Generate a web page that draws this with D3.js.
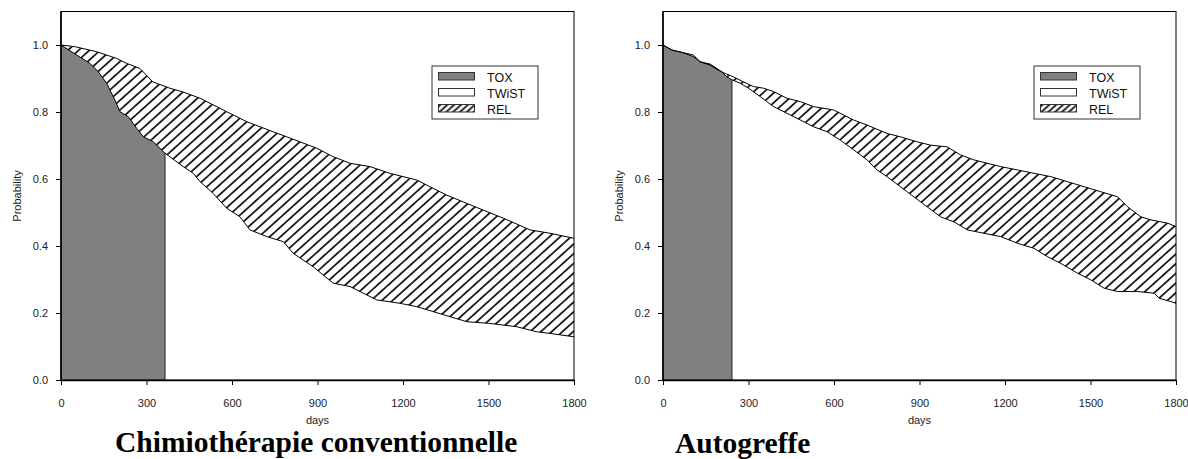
<!DOCTYPE html>
<html>
<head>
<meta charset="utf-8">
<script src="https://cdn.jsdelivr.net/npm/d3@7"></script>
<style>
  body { margin: 0; background: #fff; }
</style>
</head>
<body>
<div id="chart"></div>
<script>
// shared ticks and legend
const yTicks = [0, 0.2, 0.4, 0.6, 0.8, 1.0];
const xTicks = [0, 300, 600, 900, 1200, 1500, 1800];
const legendLabels = ["TOX", "TWiST", "REL"];

// Chimiothérapie conventionnelle : [day, probability]
const chimioTitle = "Chimiothérapie conventionnelle";
const chimioTox = 365;
const chimioOS = [
  [0, 1.000], [49, 0.995], [125, 0.980], [195, 0.960], [231, 0.945], [277, 0.930],
  [322, 0.890], [382, 0.871], [424, 0.861], [488, 0.841], [581, 0.801], [652, 0.771],
  [744, 0.741], [792, 0.726], [897, 0.692], [954, 0.667], [1014, 0.647], [1084, 0.637],
  [1154, 0.617], [1248, 0.597], [1353, 0.552], [1482, 0.507], [1552, 0.483],
  [1646, 0.448], [1716, 0.438], [1800, 0.423]
];
const chimioDFS = [
  [0, 1.000], [55, 0.970], [102, 0.945], [131, 0.920], [160, 0.886], [189, 0.836],
  [207, 0.801], [236, 0.786], [266, 0.751], [289, 0.726], [324, 0.711], [365, 0.677],
  [429, 0.637], [464, 0.617], [488, 0.592], [534, 0.557], [581, 0.513], [628, 0.487],
  [663, 0.448], [722, 0.428], [780, 0.413], [815, 0.378], [885, 0.338], [955, 0.289],
  [1014, 0.279], [1108, 0.239], [1189, 0.229], [1248, 0.219], [1365, 0.189],
  [1424, 0.174], [1505, 0.169], [1599, 0.159], [1669, 0.144], [1716, 0.139], [1800, 0.129]
];

// Autogreffe : [day, probability]
const autoTitle = "Autogreffe";
const autoTox = 242;
const autoOS = [
  [0, 1.000], [31, 0.985], [71, 0.977], [107, 0.970], [130, 0.950], [165, 0.940],
  [194, 0.925], [218, 0.915], [247, 0.905], [282, 0.890], [317, 0.876], [353, 0.871],
  [388, 0.861], [435, 0.841], [482, 0.831], [528, 0.816], [599, 0.806], [669, 0.776],
  [716, 0.761], [786, 0.736], [833, 0.726], [892, 0.711], [939, 0.701], [997, 0.696],
  [1044, 0.672], [1091, 0.657], [1185, 0.637], [1244, 0.627], [1302, 0.617],
  [1361, 0.607], [1419, 0.592], [1478, 0.577], [1536, 0.562], [1595, 0.547],
  [1630, 0.517], [1677, 0.487], [1712, 0.478], [1771, 0.468], [1800, 0.458]
];
const autoDFS = [
  [0, 1.000], [31, 0.985], [71, 0.977], [107, 0.965], [130, 0.950], [165, 0.943],
  [189, 0.930], [206, 0.920], [224, 0.905], [242, 0.896], [271, 0.886], [300, 0.871],
  [341, 0.846], [388, 0.816], [435, 0.796], [482, 0.776], [528, 0.756], [576, 0.741],
  [622, 0.716], [669, 0.687], [716, 0.657], [751, 0.627], [786, 0.607], [833, 0.577],
  [880, 0.547], [927, 0.517], [974, 0.487], [1021, 0.472], [1068, 0.448], [1126, 0.438],
  [1185, 0.428], [1244, 0.408], [1302, 0.393], [1349, 0.368], [1396, 0.348],
  [1454, 0.319], [1501, 0.299], [1548, 0.274], [1595, 0.264], [1665, 0.264],
  [1724, 0.259], [1741, 0.244], [1782, 0.234], [1800, 0.229]
];

const W = 1188, H = 459;
const TOP = 11.5, BOTTOM = 380;
const FONT = "'Liberation Sans', Arial, sans-serif";
const SERIF = "'Liberation Serif', 'Times New Roman', serif";

const svg = d3.select("#chart").append("svg")
  .attr("width", W)
  .attr("height", H);

// hatch patterns (area + denser legend swatch)
const defs = svg.append("defs");
function hatch(id, size, width) {
  const p = defs.append("pattern")
    .attr("id", id)
    .attr("patternUnits", "userSpaceOnUse")
    .attr("width", size)
    .attr("height", size)
    .attr("patternTransform", "rotate(-42)");
  p.append("rect").attr("width", size).attr("height", size).attr("fill", "#fff");
  p.append("line")
    .attr("x1", 0).attr("x2", size)
    .attr("y1", size / 2).attr("y2", size / 2)
    .attr("stroke", "#000")
    .attr("stroke-width", width);
}
hatch("hatch", 7.2, 1.6);
hatch("hatchLegend", 4.6, 1.7);

function drawPanel(cfg) {
  const x = d3.scaleLinear().domain([0, 1800]).range([cfg.left, cfg.right]);
  const y = d3.scaleLinear().domain([0, 1.1]).range([BOTTOM, TOP]);
  const g = svg.append("g");

  const line = d3.line().x(d => x(d[0])).y(d => y(d[1]));

  // REL: between overall survival and relapse-free curves
  const band = cfg.os.concat(cfg.dfs.slice().reverse());
  g.append("path")
    .attr("d", line(band) + "Z")
    .attr("fill", "url(#hatch)");

  // TOX: under relapse-free curve until end of toxicity
  const toxPts = cfg.dfs.filter(d => d[0] <= cfg.tox);
  g.append("path")
    .attr("d", d3.area().x(d => x(d[0])).y0(y(0)).y1(d => y(d[1]))(toxPts))
    .attr("fill", "#808080");
  const toxTop = toxPts[toxPts.length - 1];
  g.append("line")
    .attr("x1", x(cfg.tox)).attr("x2", x(cfg.tox))
    .attr("y1", y(0)).attr("y2", y(toxTop[1]))
    .attr("stroke", "#222")
    .attr("stroke-width", 1);

  // curves
  [cfg.os, cfg.dfs].forEach(s => {
    g.append("path")
      .attr("d", line(s))
      .attr("fill", "none")
      .attr("stroke", "#000")
      .attr("stroke-width", 1);
  });

  // frame
  g.append("rect")
    .attr("x", cfg.left).attr("y", TOP)
    .attr("width", cfg.right - cfg.left)
    .attr("height", BOTTOM - TOP)
    .attr("fill", "none")
    .attr("stroke", "#000")
    .attr("stroke-width", 1);

  // axes
  const yAxis = g.append("g")
    .attr("transform", `translate(${cfg.left},0)`)
    .call(d3.axisLeft(y).tickValues(yTicks).tickFormat(d3.format(".1f"))
      .tickSize(5).tickSizeOuter(0).tickPadding(8));
  yAxis.select(".domain").attr("d", `M0,${y(0)}V${TOP}`).attr("stroke-width", 1.6);

  const xAxis = g.append("g")
    .attr("transform", `translate(0,${BOTTOM})`)
    .call(d3.axisBottom(x).tickValues(xTicks).tickFormat(d3.format("d"))
      .tickSize(5).tickSizeOuter(0).tickPadding(14));
  xAxis.select(".domain").attr("stroke-width", 1.4);

  [yAxis, xAxis].forEach(a => {
    a.attr("font-family", FONT).attr("font-size", 11);
    a.selectAll("text").attr("fill", "#222");
  });

  // axis labels
  g.append("text")
    .attr("x", (cfg.left + cfg.right) / 2)
    .attr("y", 424)
    .attr("text-anchor", "middle")
    .attr("font-family", FONT)
    .attr("font-size", 11)
    .attr("fill", "#222")
    .text("days");

  g.append("text")
    .attr("transform", `translate(${cfg.left - 40},196) rotate(-90)`)
    .attr("text-anchor", "middle")
    .attr("font-family", FONT)
    .attr("font-size", 11)
    .attr("fill", "#222")
    .text("Probability");

  // legend
  const lg = g.append("g").attr("transform", `translate(${cfg.left + 371},66)`);
  lg.append("rect")
    .attr("width", 106).attr("height", 53)
    .attr("fill", "#fff")
    .attr("stroke", "#333");
  const fills = ["#808080", "#fff", "url(#hatchLegend)"];
  legendLabels.forEach((lab, i) => {
    lg.append("rect")
      .attr("x", 6.5).attr("y", 6.5 + i * 16)
      .attr("width", 36).attr("height", 7.5)
      .attr("fill", fills[i])
      .attr("stroke", "#333");
    lg.append("text")
      .attr("x", 55).attr("y", 15.5 + i * 16)
      .attr("font-family", FONT)
      .attr("font-size", 12.5)
      .attr("fill", "#111")
      .text(lab);
  });

  // title
  g.append("text")
    .attr("x", cfg.titleX)
    .attr("y", cfg.titleY)
    .attr("font-family", SERIF)
    .attr("font-weight", "bold")
    .attr("font-size", 29.5)
    .attr("fill", "#000")
    .text(cfg.title);
}

drawPanel({
  left: 61, right: 574, os: chimioOS, dfs: chimioDFS, tox: chimioTox,
  title: chimioTitle, titleX: 115, titleY: 451.5
});
drawPanel({
  left: 663, right: 1176, os: autoOS, dfs: autoDFS, tox: autoTox,
  title: autoTitle, titleX: 675, titleY: 452.5
});
</script>
</body>
</html>
